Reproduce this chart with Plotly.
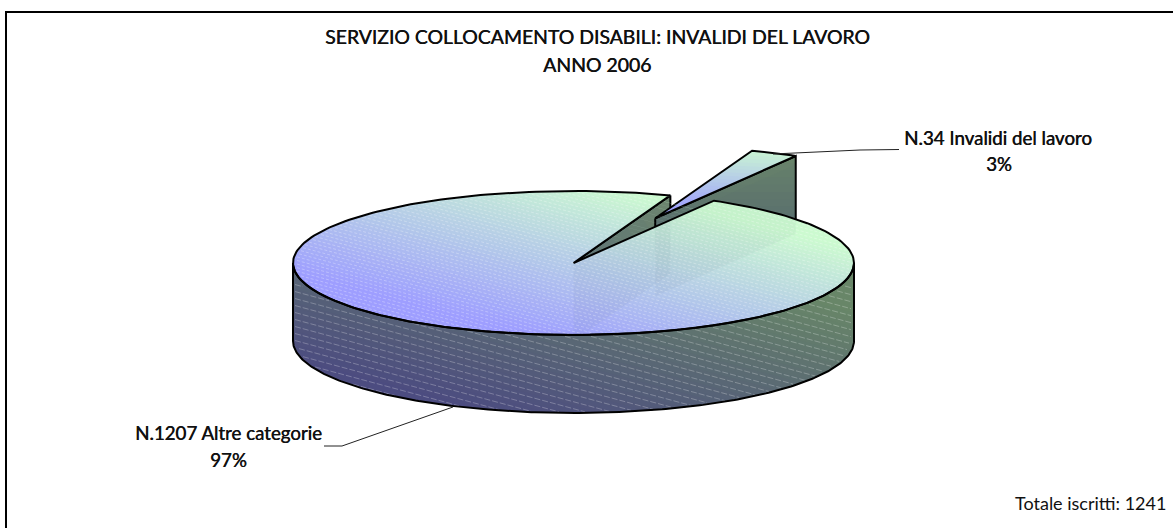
import numpy as np
import plotly.graph_objects as go

# ---- data ----
categories = ["Invalidi del lavoro", "Altre categorie"]
counts = [34, 1207]
title_lines = ["SERVIZIO COLLOCAMENTO DISABILI: INVALIDI DEL LAVORO", "ANNO 2006"]
total_label = "Totale iscritti: 1241"

# ---- pie projection (pixel-based axes) ----
W, H = 1173, 528
CX, CY, RX, RY, DEPTH = 573.5, 263.0, 280.5, 72.0, 78.0
FIRST_ANGLE, EXPLODE = 20.2, 0.686
FONT = "Lato"

share = counts[0] / sum(counts)
a0 = FIRST_ANGLE
a1 = a0 + 360 * share
amid = (a0 + a1) / 2


def pt(theta, r=1.0, ox=0.0, oy=0.0):
    t = np.radians(theta)
    return ox + CX + r * RX * np.sin(t), oy + CY - r * RY * np.cos(t)


def arc(t0, t1, n=240, ox=0.0, oy=0.0):
    th = np.linspace(t0, t1, n)
    x, y = pt(th, 1.0, ox, oy)
    return [float(v) for v in x], [float(v) for v in y]


def clip_half(px, py, nx, ny, d):
    """Keep the part of a polygon where nx*x + ny*y >= d."""
    ox_, oy_ = [], []
    n = len(px)
    for i in range(n):
        x1, y1, x2, y2 = px[i], py[i], px[(i + 1) % n], py[(i + 1) % n]
        s1 = nx * x1 + ny * y1 - d
        s2 = nx * x2 + ny * y2 - d
        if s1 >= 0:
            ox_.append(x1); oy_.append(y1)
        if (s1 >= 0) != (s2 >= 0):
            f = s1 / (s1 - s2)
            ox_.append(x1 + f * (x2 - x1)); oy_.append(y1 + f * (y2 - y1))
    return ox_, oy_


def mix(c0, c1, t):
    t = min(max(t, 0), 1)
    return "rgb(%d,%d,%d)" % tuple(round(a + (b - a) * t) for a, b in zip(c0, c1))


fig = go.Figure()


def gradient_poly(px, py, c0, c1, wu, wv, shift=0.0, steps=44):
    """t = wu*u + wv*v - shift, u rising rightwards, v rising upwards over the bbox."""
    x0, x1, y0, y1 = min(px), max(px), min(py), max(py)
    nx, ny = wu / max(x1 - x0, 1e-6), -wv / max(y1 - y0, 1e-6)
    base = nx * x0 + ny * y1
    for i in range(steps):
        t = i / (steps - 1)
        cx, cy = clip_half(px, py, nx, ny, t + shift + base) if i else (px, py)
        if len(cx) < 3:
            continue
        fig.add_trace(go.Scatter(x=cx, y=cy, mode="lines", fill="toself",
                                 fillcolor=mix(c0, c1, t), line=dict(width=0),
                                 hoverinfo="skip", showlegend=False))


def outline(px, py, close=True, width=2):
    xs, ys = list(px), list(py)
    if close:
        xs.append(xs[0]); ys.append(ys[0])
    fig.add_trace(go.Scatter(x=xs, y=ys, mode="lines", line=dict(color="black", width=width),
                             hoverinfo="skip", showlegend=False))


BLUE, GREEN = (158, 158, 255), (204, 250, 208)
DBLUE, DGREEN = (76, 76, 128), (104, 134, 104)

# wall of the large slice seen through the gap
px0, py0 = pt(a0)
px0, py0 = float(px0), float(py0)
wall_x = [CX, px0, px0, CX]
wall_y = [CY, py0, py0 + DEPTH, CY + DEPTH]
gradient_poly(wall_x, wall_y, (90, 110, 120), (110, 135, 110), 0.5, 0.5, steps=10)
outline(wall_x, wall_y)

# exploded small slice
ox, oy = pt(amid, EXPLODE)
ox, oy = float(ox - CX), float(oy - CY)
qx1, qy1 = pt(a1, 1, ox, oy)
qx1, qy1 = float(qx1), float(qy1)
ax, ay = CX + ox, CY + oy
side_x = [ax, qx1, qx1, ax]
side_y = [ay, qy1, qy1 + DEPTH, ay + DEPTH]
gradient_poly(side_x, side_y, (82, 100, 112), (106, 134, 106), 0.0, 1.3, shift=0.3, steps=16)
outline(side_x, side_y)
ax_arc, ay_arc = arc(a0, a1, 20, ox, oy)
wedge_x = [ax] + ax_arc
wedge_y = [ay] + ay_arc
gradient_poly(wedge_x, wedge_y, BLUE, GREEN, 0.1, 1.0, shift=0.1, steps=20)
outline(wedge_x, wedge_y)

# front rim of the large slice
tx, ty = arc(90, 270)
bx, by = arc(270, 90, oy=DEPTH)
rim_x, rim_y = tx + bx, ty + by
gradient_poly(rim_x, rim_y, DBLUE, DGREEN, 0.75, 0.75, shift=0.25)

# top of the large slice
ttx, tty = arc(a1, a0 + 360)
top_x, top_y = [CX] + ttx, [CY] + tty
gradient_poly(top_x, top_y, BLUE, GREEN, 0.85, 0.85, shift=0.35)


def inside_top(x, y):
    u, v = (x - CX) / RX, (y - CY) / RY
    ang = np.degrees(np.arctan2(u, -v)) % 360
    return (u * u + v * v <= 0.985) & ~((ang > a0 - 1) & (ang < a1 + 1))


def inside_rim(x, y):
    u, v = (x - CX) / RX, (y - CY) / RY
    v2 = (y - CY - DEPTH) / RY
    return (u * u + v * v > 1.03) & (y > CY) & (np.abs(u) < 0.995) & ((v2 <= 0) | (u * u + v2 * v2 <= 0.98))


def hatch(spacing, mask, color, dash, width=1):
    xs, ys = [], []
    grid = np.arange(CX - RX, CX + RX, 2.0)
    slope = 0.27
    for c in np.arange(CY - RY - 180, CY + RY + DEPTH + 20, spacing):
        y = c + slope * (grid - (CX - RX))
        m = mask(grid, y)
        for gx, gy, ok in zip(grid, y, m):
            if ok:
                xs.append(float(gx)); ys.append(float(gy))
            elif xs and xs[-1] is not None:
                xs.append(None); ys.append(None)
        if xs and xs[-1] is not None:
            xs.append(None); ys.append(None)
    fig.add_trace(go.Scatter(x=xs, y=ys, mode="lines", connectgaps=False,
                             line=dict(color=color, width=width, dash=dash),
                             hoverinfo="skip", showlegend=False))


# faint see-through of the hidden walls on the top face (clipped below the slice edge)
qx_main, qy_main = pt(a1)
ex, ey = float(qx_main) - CX, float(qy_main) - CY
edge_nx, edge_ny = -ey, ex  # normal pointing to the lower right of the edge
for gx, gy in ((wall_x, wall_y), (side_x, side_y)):
    cx, cy = clip_half(gx, gy, edge_nx, edge_ny, edge_nx * CX + edge_ny * CY)
    fig.add_trace(go.Scatter(x=cx + cx[:1], y=cy + cy[:1], mode="lines", fill="toself",
                             fillcolor="rgba(70,100,110,0.05)", line=dict(width=0),
                             hoverinfo="skip", showlegend=False))

hatch(3.6, inside_top, "rgba(255,255,255,0.28)", "3px,2px")
hatch(7.0, inside_rim, "rgba(255,255,255,0.26)", "6px,2px")

# outlines on top of everything
outline(rim_x, rim_y, close=True)
outline(top_x, top_y, close=True)

# leader lines
fig.add_trace(go.Scatter(x=[773, 860, 899], y=[154, 150, 149.5], mode="lines",
                         line=dict(color="#222", width=1), hoverinfo="skip", showlegend=False))
fig.add_trace(go.Scatter(x=[453, 342, 324], y=[407, 446, 446], mode="lines",
                         line=dict(color="#222", width=1), hoverinfo="skip", showlegend=False))

# frame (only top and left edges are inside the picture)
fig.add_trace(go.Scatter(x=[6, 6, W], y=[H, 12, 12], mode="lines",
                         line=dict(color="black", width=2), hoverinfo="skip", showlegend=False))


def label(x, y, text, size=18.7, anchor="center", shadow="0.45px 0 0 #111"):
    fig.add_annotation(x=x, y=y, text=text, showarrow=False, xanchor=anchor, yanchor="middle",
                       font=dict(family=FONT, size=size, color="#111", shadow=shadow))


pcts = [round(100 * c / sum(counts)) for c in counts]
label(597, 36, title_lines[0], size=19.4)
label(597, 64, title_lines[1], size=19.4)
label(998, 138, "N.%d %s" % (counts[0], categories[0]))
label(999, 164, "%d%%" % pcts[0])
label(228, 433, "N.%d %s" % (counts[1], categories[1]))
label(228, 460, "%d%%" % pcts[1])
label(1168, 503, total_label, anchor="right", size=18, shadow="none")

fig.update_layout(width=W, height=H, margin=dict(l=0, r=0, t=0, b=0),
                  paper_bgcolor="white", plot_bgcolor="white", showlegend=False,
                  xaxis=dict(range=[0, W], visible=False, fixedrange=True),
                  yaxis=dict(range=[H, 0], visible=False, fixedrange=True))
fig.write_html("out.html", config={"displayModeBar": False},
               post_script="document.body.style.margin='0';")
